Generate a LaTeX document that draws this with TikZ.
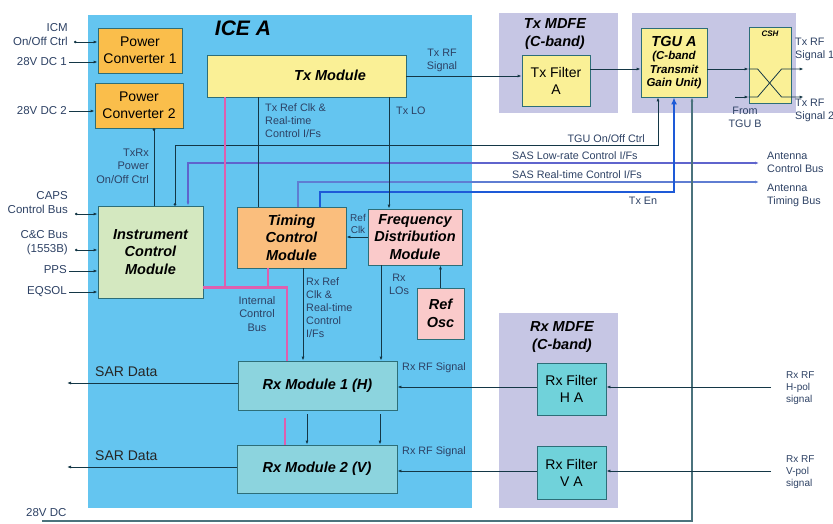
\documentclass[tikz,border=0pt]{standalone}
\usepackage{fontspec}
\setmainfont{Liberation Sans}
\usetikzlibrary{arrows.meta}

\definecolor{iceblue}{RGB}{100,197,240}
\definecolor{mdfe}{RGB}{198,198,228}
\definecolor{pwrorange}{RGB}{250,190,75}
\definecolor{tcmorange}{RGB}{250,190,125}
\definecolor{txyellow}{RGB}{250,240,150}
\definecolor{icmgreen}{RGB}{212,232,192}
\definecolor{fdmpink}{RGB}{250,202,202}
\definecolor{rxcyan}{RGB}{140,212,222}
\definecolor{filtcyan}{RGB}{112,210,218}
\definecolor{edge}{RGB}{45,110,120}
\definecolor{wirecol}{RGB}{20,55,70}
\definecolor{busmag}{RGB}{222,95,175}
\definecolor{sasviolet}{RGB}{95,100,205}
\definecolor{sasblue}{RGB}{95,125,210}
\definecolor{txenblue}{RGB}{30,90,215}
\definecolor{dcgray}{RGB}{75,115,125}
\definecolor{lblcol}{RGB}{45,65,100}

\tikzset{
  grp/.style={inner sep=0pt, draw=none},
  blk/.style={draw=edge, line width=0.8pt, inner sep=0pt, align=center},
  blkfont/.style={font=\fontsize{14}{17}\selectfont},
  blktitle/.style={font=\fontsize{14.5}{17.5}\selectfont\bfseries\itshape},
  grptitle/.style={font=\fontsize{14.5}{18}\selectfont\bfseries\itshape, align=center, inner sep=0pt},
  bigtitle/.style={font=\fontsize{21}{24}\selectfont\bfseries\itshape, inner sep=0pt},
  cshtitle/.style={font=\fontsize{8}{9}\selectfont\bfseries\itshape, inner sep=0pt},
  lbl/.style={font=\fontsize{10.8}{13}\selectfont, text=lblcol, inner sep=0pt},
  lblS/.style={font=\fontsize{10}{12}\selectfont, text=lblcol, inner sep=0pt},
  lblM/.style={font=\fontsize{11}{13.5}\selectfont, text=lblcol, inner sep=0pt},
  lblL/.style={font=\fontsize{11.5}{14.5}\selectfont, text=lblcol, inner sep=0pt, align=right},
  sarlbl/.style={font=\fontsize{14}{16}\selectfont, text=black!85, inner sep=0pt},
  wire/.style={draw=wirecol, line width=0.8pt},
  bus/.style={draw=busmag, line width=2.6pt},
  saswire/.style={draw=sasviolet, line width=1.8pt},
  sasrtwire/.style={draw=sasblue, line width=1.6pt},
  txenwire/.style={draw=txenblue, line width=2.4pt},
  dcwire/.style={draw=dcgray, line width=1.4pt}
}

\begin{document}
\begin{tikzpicture}[x=1pt,y=-1pt,>={Latex[length=4pt,width=3pt]}]
\useasboundingbox (0,0) rectangle (833,524);

% group backgrounds
\node[grp, fill=iceblue, minimum width=384, minimum height=493] (ice) at (280,261.5) {};
\node[grp, fill=mdfe, minimum width=119, minimum height=100] (txgrp) at (558.5,63) {};
\node[grp, fill=mdfe, minimum width=164, minimum height=100] (tgugrp) at (714,63) {};
\node[grp, fill=mdfe, minimum width=119, minimum height=195] (rxgrp) at (558.5,410.5) {};
\node[bigtitle] (icetitle) at (243,28) {ICE A};
\node[grptitle] (txgrptitle) at (555,34) {Tx MDFE\\(C-band)};
\node[grptitle] (rxgrptitle) at (562,337) {Rx MDFE\\(C-band)};

% blocks
\node[blk, blkfont, fill=pwrorange, minimum width=84, minimum height=45] (pc1) at (140,50.5) {Power\\Converter 1};
\node[blk, blkfont, fill=pwrorange, minimum width=88, minimum height=45] (pc2) at (139,105.5) {Power\\Converter 2};
\node[blk, fill=txyellow, minimum width=199, minimum height=42] (txm) at (306.5,76) {};
\node[blktitle] (txmtext) at (330,75) {Tx Module};
\node[blk, fill=txyellow, minimum width=66, minimum height=69,
  font=\fontsize{11.5}{13.5}\selectfont\bfseries\itshape] (tgu) at (674,62.5)
  {{\fontsize{14.5}{16}\selectfont TGU A}\\(C-band\\Transmit\\Gain Unit)};
\node[blk, blkfont, fill=txyellow, minimum width=68, minimum height=51] (txf) at (556,80.5) {Tx Filter\\A};
\node[blk, fill=txyellow, minimum width=42, minimum height=76] (csh) at (770,65) {};
\node[cshtitle] (cshtext) at (770,34) {CSH};
\node[blk, blktitle, fill=icmgreen, minimum width=105, minimum height=92] (icm) at (150.5,252) {Instrument\\Control\\Module};
\node[blk, blktitle, fill=tcmorange, minimum width=109, minimum height=61] (tcm) at (291.5,237.5) {Timing\\Control\\Module};
\node[blk, blktitle, fill=fdmpink, minimum width=94, minimum height=56] (fdm) at (415,237) {Frequency\\Distribution\\Module};
\node[blk, blktitle, fill=fdmpink, minimum width=47, minimum height=51] (osc) at (440.5,313.5) {Ref\\Osc};
\node[blk, blktitle, fill=rxcyan, minimum width=159, minimum height=49] (rx1) at (317.5,385.5) {Rx Module 1 (H)};
\node[blk, blktitle, fill=rxcyan, minimum width=160, minimum height=48] (rx2) at (317,469) {Rx Module 2 (V)};
\node[blk, blkfont, fill=filtcyan, minimum width=69, minimum height=52] (rfh) at (571.5,389) {Rx Filter\\H A};
\node[blk, blkfont, fill=filtcyan, minimum width=69, minimum height=53] (rfv) at (571.5,472.5) {Rx Filter\\V A};

% free ends and levels
\coordinate (icmoo) at (74,42);
\coordinate (dc1) at (69,62);
\coordinate (dc2) at (69,111);
\coordinate (caps) at (75,214);
\coordinate (ccbus) at (75,250);
\coordinate (pps) at (69,271);
\coordinate (eqsol) at (69,292);
\coordinate (lvtgu) at (0,145);
\coordinate (antctl) at (759,163);
\coordinate (antclk) at (759,182);
\coordinate (lvtxen) at (0,192);
\coordinate (dcin) at (42,521);
\coordinate (tgin) at (0,69);
\coordinate (tgub) at (735,97);
\coordinate (sar1) at (67,383);
\coordinate (sar2) at (67,467);
\coordinate (hin) at (771,387);
\coordinate (vin) at (771,471);

% power converter inputs
\draw[wire,{Circle[length=2.5pt]}->] (icmoo) -- (icmoo -| pc1.west);
\draw[wire,->] (dc1) -- (dc1 -| pc1.west);
\draw[wire,->] (dc2) -- (dc2 -| pc2.west);
\draw[wire,{Circle[length=2.5pt]}-] ([xshift=15]pc2.south) coordinate (pwr) -- (pwr |- icm.north);

% ICM inputs
\draw[wire,{Circle[length=2.5pt]}->] (caps) -- (caps -| icm.west);
\draw[wire,{Circle[length=2.5pt]}->] (ccbus) -- (ccbus -| icm.west);
\draw[wire,->] (pps) -- (pps -| icm.west);
\draw[wire,->] (eqsol) -- (eqsol -| icm.west);

% control lines to TGU and antenna
\draw[wire,{Circle[length=2.5pt]}->] ([xshift=24.5]icm.north) coordinate (tgc) -- (tgc |- lvtgu)
  -- ([xshift=-16]tgu.south |- lvtgu) coordinate (tgc2) -- (tgc2 |- tgu.south);
\draw[saswire,<->] ([xshift=37.5]icm.north) coordinate (saslo) -- (saslo |- antctl) -- (antctl);
\draw[sasrtwire,->] ([xshift=6.5]tcm.north) coordinate (sasrt) -- (sasrt |- antclk) -- (antclk);
\draw[txenwire,-{Latex[length=7pt,width=6pt]}] ([xshift=28.5]tcm.north) coordinate (txen) -- (txen |- lvtxen)
  -- (tgu.south |- lvtxen) -- (tgu.south);
\draw[dcwire,->] (dcin) -- ([xshift=18]tgu.south |- dcin) coordinate (dcup) -- (dcup |- tgu.south);

% transmit chain
\draw[wire,->] (txm.east) -- (txm.east -| txf.west);
\draw[wire,->] (tgin -| txf.east) -- (tgin -| tgu.west);
\draw[wire,->] (tgin -| tgu.east) -- (tgin -| csh.west);
\draw[wire,->] (tgub) -- (tgub -| csh.west);
\draw[wire,->] (tgin -| csh.west) -- ++(9,0) -- ++(24,28) -- ++(22,0);
\draw[wire,->] (tgub -| csh.west) -- ++(9,0) -- ++(24,-28) -- ++(22,0);

% inside ICE A
\draw[wire] ([xshift=-33.5]tcm.north) coordinate (txref) -- (txref |- txm.south);
\draw[wire,<-] ([xshift=-26]fdm.north) coordinate (txlo) -- (txlo |- txm.south);
\draw[wire,->] (fdm.west) -- (fdm.west -| tcm.east);
\draw[wire,->] (osc.north) -- (osc.north |- fdm.south);
\draw[wire,->] ([xshift=11.5]tcm.south) coordinate (rxref) -- (rxref |- rx1.north);
\draw[wire,->] ([xshift=-34]fdm.south) coordinate (rxlo) -- (rxlo |- rx1.north);
\draw[wire,->] ([xshift=-10.5,yshift=-4]rx1.south) coordinate (r1a) -- (r1a |- rx2.north);
\draw[wire,->] ([xshift=62.5,yshift=-4]rx1.south) coordinate (r1b) -- (r1b |- rx2.north);

% internal control bus
\coordinate (icb) at ([yshift=11]icm.south east);
\coordinate (rxbus) at ([xshift=-30.5]rx1.north);
\draw[bus] (icb) -- (icb -| rxbus) -- (rxbus);
\draw[bus] ([xshift=-81.5]txm.south) coordinate (txbus) -- (txbus |- icb);
\draw[bus] ([xshift=-23.5]tcm.south) coordinate (tcbus) -- (tcbus |- icb);
\draw[bus] ([xshift=-32.5,yshift=-8]rx1.south) coordinate (rxbus2) -- (rxbus2 |- rx2.north);

% receive chain
\draw[wire,->] (sar1 -| rx1.west) -- (sar1);
\draw[wire,->] (sar2 -| rx2.west) -- (sar2);
\draw[wire,->] (hin) -- (hin -| rfh.east);
\draw[wire,->] (hin -| rfh.west) -- (hin -| rx1.east);
\draw[wire,->] (vin) -- (vin -| rfv.east);
\draw[wire,->] (vin -| rfv.west) -- (vin -| rx2.east);

% labels
\node[lblL, anchor=east] (lblicm) at (68,34.5) {ICM\\On/Off Ctrl};
\node[lblL, anchor=east] (lbldc1) at (67,62) {28V DC 1};
\node[lblL, anchor=east] (lbldc2) at (67,111) {28V DC 2};
\node[lblL, anchor=east] (lblcaps) at (68,202.5) {CAPS\\Control Bus};
\node[lblL, anchor=east] (lblcc) at (68,242.5) {C\&C Bus\\(1553B)};
\node[lblL, anchor=east] (lblpps) at (67,270) {PPS};
\node[lblL, anchor=east] (lbleqsol) at (67,292) {EQSOL};
\node[lblL, anchor=west] (lbldc) at (26,513) {28V DC};
\node[lblM, anchor=east, align=right] (lblpwr) at (149,166) {TxRx\\Power\\On/Off Ctrl};
\node[lbl, align=center] (lbltxrf) at (442,60) {Tx RF\\Signal};
\node[lbl, anchor=west, align=left] (lbltxref) at (265,121) {Tx Ref Clk \&\\Real-time\\Control I/Fs};
\node[lbl, anchor=west] (lbltxlo) at (396,111) {Tx LO};
\node[lbl, anchor=east] (lbltguctl) at (645,139) {TGU On/Off Ctrl};
\node[lbl, anchor=west] (lblsaslo) at (512,156) {SAS Low-rate Control I/Fs};
\node[lbl, anchor=west] (lblsasrt) at (512,175) {SAS Real-time Control I/Fs};
\node[lbl] (lbltxen) at (643,201) {Tx En};
\node[lbl, anchor=west, align=left] (lblantctl) at (767,162) {Antenna\\Control Bus};
\node[lbl, anchor=west, align=left] (lblantclk) at (767,195) {Antenna\\Timing Bus};
\node[lbl, anchor=west, align=left] (lblout1) at (795,49) {Tx RF\\Signal 1};
\node[lbl, anchor=west, align=left] (lblout2) at (795,110) {Tx RF\\Signal 2};
\node[lbl, align=center] (lbltgub) at (745,117) {From\\TGU B};
\node[lblS, align=center] (lblrefclk) at (358,224) {Ref\\Clk};
\node[lblM, align=center] (lblicb) at (257,314) {Internal\\Control\\Bus};
\node[lbl, anchor=west, align=left] (lblrxref) at (306,308) {Rx Ref\\Clk \&\\Real-time\\Control\\I/Fs};
\node[lbl, align=center] (lblrxlo) at (399,284) {Rx\\LOs};
\node[lbl, anchor=west] (lblrxrf1) at (402,368) {Rx RF Signal};
\node[lbl, anchor=west] (lblrxrf2) at (402,452) {Rx RF Signal};
\node[sarlbl, anchor=west] (lblsar1) at (95,372) {SAR Data};
\node[sarlbl, anchor=west] (lblsar2) at (95,456) {SAR Data};
\node[lblS, anchor=west, align=left] (lblhpol) at (786,388) {Rx RF\\H-pol\\signal};
\node[lblS, anchor=west, align=left] (lblvpol) at (786,472) {Rx RF\\V-pol\\signal};
\end{tikzpicture}
\end{document}
